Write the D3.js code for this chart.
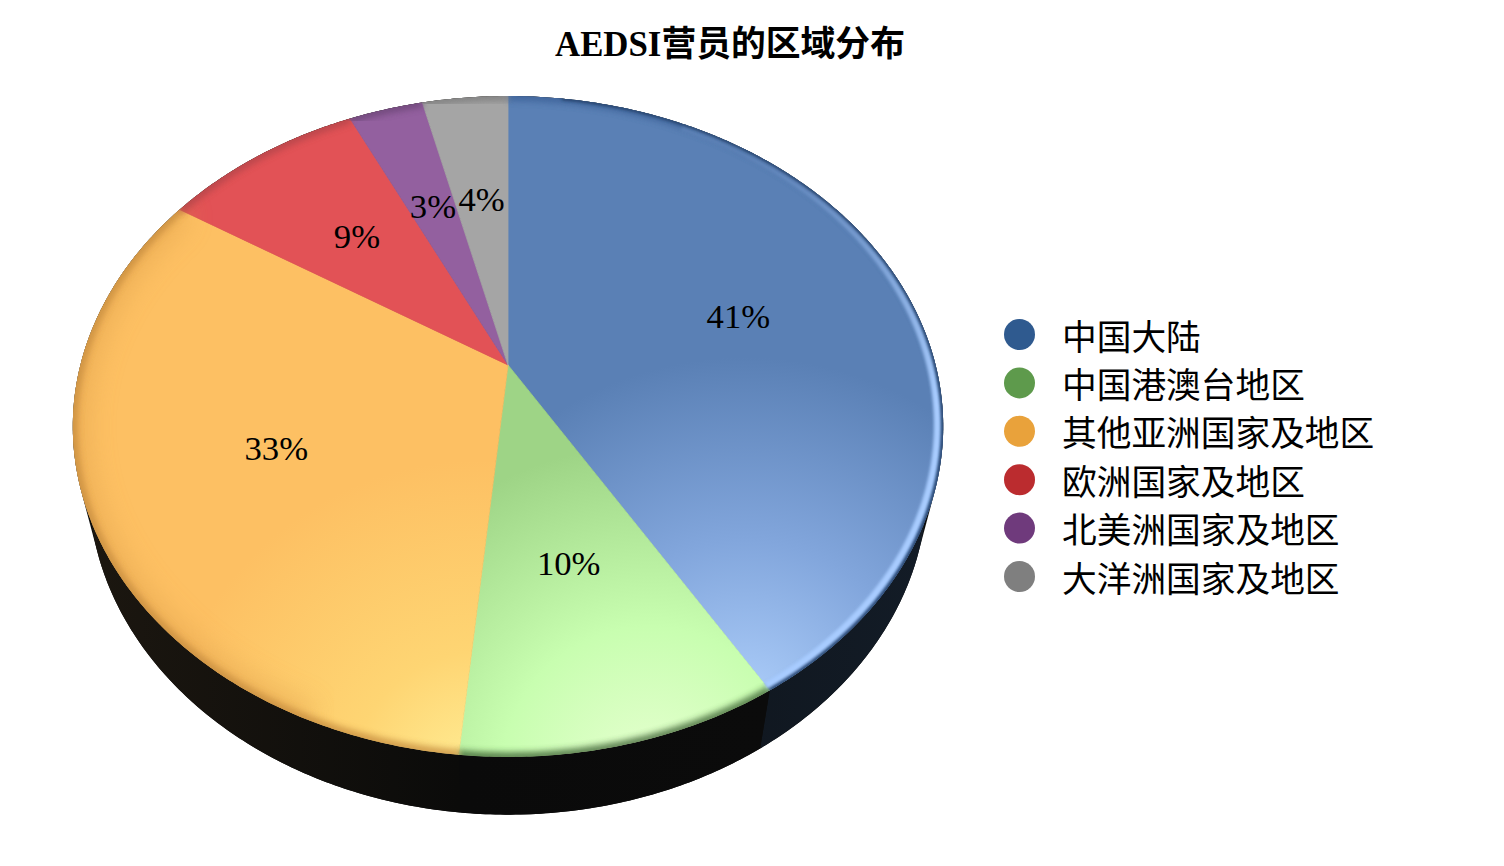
<!DOCTYPE html>
<html><head><meta charset="utf-8">
<script src="https://cdnjs.cloudflare.com/ajax/libs/d3/7.8.5/d3.min.js"></script>
<style>html,body{margin:0;background:#fff}svg{display:block}text{font-family:"Liberation Serif","Noto Sans CJK SC",serif;fill:#000}</style>
</head><body><svg id="c" width="1504" height="866"></svg>
<script>
const titleText = "AEDSI营员的区域分布";
const categories = ["中国大陆","中国港澳台地区","其他亚洲国家及地区","欧洲国家及地区","北美洲国家及地区","大洋洲国家及地区"];
const values = [41.4,10.1,32.5,8.9,3.3,3.8];
const labels = ["41%","10%","33%","9%","3%","4%"];
const legendColors = ["#2f5a8f","#5e9a4c","#e9a23b","#bb2c2f","#6f3a7c","#7f7f7f"];
const faceOuter = ["#5a80b5","#9ed486","#fdc063","#e25256","#93609f","#a5a5a5"];
const faceMid = ["#82a6dc","#c8feb0","#fed573","#e25256","#93609f","#a5a5a5"];
const faceInner = ["#aecffb","#e6ffd0","#ffee96","#e25256","#93609f","#a5a5a5"];
const bevelColors = ["#3a5f95","#2f5228","#c48a3e","#b04448","#6a4575","#7a7a7a"];
const wallLeft = ["#0d1218","#0a0a0a","#1c1710","#1c1710","#1c1710","#1c1710"];
const wallRight = ["#131c27","#0b0b0b","#0b0b0a","#1c1710","#1c1710","#1c1710"];

const svg = d3.select("#c"), defs = svg.append("defs");
const TAU = Math.PI*2, P = 0.186;
// perspective view of a flat disc: the apex of the pie is off the ellipse centre
const disc = (cx,cy,A,B)=>(t,r=1)=>{
  const u=r*Math.sin(t), v=-r*Math.cos(t), w=1-P*v;
  return [cx+A*u/w, cy+B*v/w];
};
const upper = disc(508,365,427.6,319);
const lower = disc(508,424,412,318);
const pie = d3.pie().sort(null).value(d=>d)(values);
const line = d3.line();
const sweep = (a,b)=>{const n=Math.max(2,Math.ceil((b-a)/0.01));return d3.range(n+1).map(i=>a+(b-a)*i/n)};
const wedge = d=>line([upper(0,0),...sweep(d.startAngle,d.endAngle).map(t=>upper(t))])+"Z";

// gradients
const focus = [[745,710,470],[650,775,330],[480,780,320]];
const midStop = [.36,.45,.4];
const outStop = [.75,1,1];
pie.forEach((d,i)=>{
  const f = focus[i]||[508,365,400];
  const g = defs.append("radialGradient").attr("id","f"+i).attr("gradientUnits","userSpaceOnUse")
    .attr("cx",f[0]).attr("cy",f[1]).attr("r",f[2]);
  [[0,faceInner[i]],[midStop[i]||.5,faceMid[i]],[outStop[i]||1,faceOuter[i]]].forEach(s=>g.append("stop").attr("offset",s[0]).attr("stop-color",s[1]));
  const x = [upper(d.startAngle)[0],upper(d.endAngle)[0]];
  const w = defs.append("linearGradient").attr("id","w"+i).attr("gradientUnits","userSpaceOnUse")
    .attr("x1",i==2?73:d3.min(x)).attr("x2",i==0?943:d3.max(x)).attr("y1",0).attr("y2",0);
  w.append("stop").attr("offset",0).attr("stop-color",wallLeft[i]);
  w.append("stop").attr("offset",1).attr("stop-color",wallRight[i]);
});
const hl = defs.append("linearGradient").attr("id","hl").attr("gradientUnits","userSpaceOnUse").attr("x1",0).attr("x2",0).attr("y1",150).attr("y2",400);
hl.append("stop").attr("offset",0).attr("stop-color","#a8ccff").attr("stop-opacity",.15);
hl.append("stop").attr("offset",1).attr("stop-color","#a8ccff").attr("stop-opacity",1);
const blur = (id,s)=>defs.append("filter").attr("id",id).attr("x","-10%").attr("y","-10%").attr("width","120%").attr("height","120%")
  .append("feGaussianBlur").attr("stdDeviation",s);
blur("b1",1.8); blur("b2",3); blur("b3",14);
const rim = sweep(0,TAU).map(t=>upper(t));
defs.append("clipPath").attr("id","clip").append("path").attr("d",line(rim)+"Z");

// side wall: one hull underneath to close the seams, then a tinted band per slice
const ring = sweep(0,TAU);
svg.append("path").attr("d",line(d3.polygonHull([...ring.map(t=>upper(t)),...ring.map(t=>lower(t))]))+"Z").attr("fill","#0b0b0a");
const wallPath = d=>{
  const ts = sweep(d.startAngle,d.endAngle);
  return ts.slice(1).map((t,k)=>line([upper(ts[k]),upper(t),lower(t),lower(ts[k])])+"Z").join("");
};
svg.selectAll("path.wall").data(pie).join("path").attr("class","wall").attr("d",wallPath)
  .attr("fill",(d,i)=>`url(#w${i})`);
// top faces, with a hairline of their own paint to close the seams between slices
const faces = svg.append("g").attr("clip-path","url(#clip)");
faces.selectAll("path.face").data(pie).join("path").attr("class","face").attr("d",wedge)
  .attr("fill",(d,i)=>`url(#f${i})`).attr("stroke",(d,i)=>`url(#f${i})`).attr("stroke-width",.8);

// bevel
const bevel = svg.append("g").attr("clip-path","url(#clip)");
const orange = pie[2];
bevel.append("path").attr("d",line(sweep(orange.startAngle+.3,orange.endAngle).map(t=>upper(t)))).attr("fill","none")
  .attr("stroke","#e0a04c").attr("stroke-width",26).attr("filter","url(#b3)").attr("opacity",.6);
pie.forEach((d,i)=>{
  const a=line(sweep(d.startAngle,d.endAngle).map(t=>upper(t)));
  bevel.append("path").attr("d",a).attr("fill","none").attr("stroke",bevelColors[i]).attr("stroke-width",i==1?9:10).attr("filter","url(#b2)").attr("opacity",.75);
});
// highlight ring and dark outer edge on the blue slice
const blue = pie[0];
bevel.append("path").attr("d",line(sweep(blue.startAngle+.5,blue.endAngle).map(t=>upper(t,.987)))).attr("fill","none")
  .attr("stroke","url(#hl)").attr("stroke-width",7).attr("filter","url(#b1)");
bevel.append("path").attr("d",line(sweep(blue.startAngle+.15,blue.endAngle).map(t=>upper(t,1)))).attr("fill","none")
  .attr("stroke","#1f3a60").attr("stroke-width",3).attr("filter","url(#b1)").attr("opacity",.9);

// percent labels
svg.selectAll("text.pct").data(pie).join("text").attr("class","pct")
  .attr("x",d=>upper((d.startAngle+d.endAngle)/2,.575)[0])
  .attr("y",d=>upper((d.startAngle+d.endAngle)/2,.575)[1])
  .attr("dy",".3em").attr("text-anchor","middle").attr("font-size",34.7).text((d,i)=>labels[i]);

// title
svg.append("text").attr("x",730).attr("y",56).attr("text-anchor","middle").attr("font-size",34.8).attr("font-weight","bold").text(titleText);

// legend
const ly = d3.scalePoint().domain(categories).range([334.5,576.5]);
const lg = svg.selectAll("g.leg").data(categories).join("g").attr("class","leg").attr("transform",d=>`translate(0,${ly(d)})`);
lg.append("circle").attr("cx",1019.5).attr("r",15.5).attr("fill",(d,i)=>legendColors[i]);
lg.append("text").attr("x",1062).attr("y",15).attr("font-size",34.7).text(d=>d);
</script></body></html>
